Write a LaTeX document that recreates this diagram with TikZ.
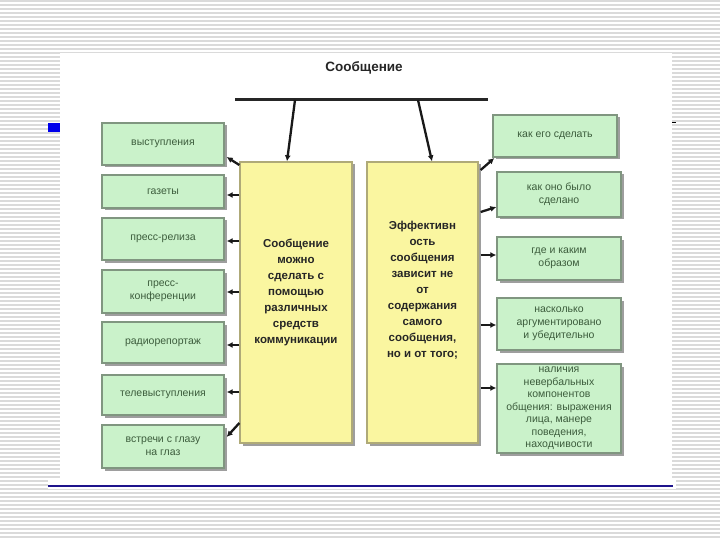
\documentclass[tikz,border=0pt]{standalone}
\usepackage{fontspec}
\setmainfont{Liberation Sans}
\usetikzlibrary{shadows,arrows.meta}
\definecolor{gfill}{RGB}{202,242,202}
\definecolor{gdraw}{RGB}{128,150,128}
\definecolor{gtext}{RGB}{60,92,60}
\definecolor{yfill}{RGB}{250,246,160}
\definecolor{ydraw}{RGB}{175,170,120}
\definecolor{stripe}{RGB}{218,218,218}
\definecolor{slideblue}{RGB}{30,20,140}
\definecolor{bulletblue}{RGB}{0,0,235}
\begin{document}
\begin{tikzpicture}[x=1pt,y=-1pt,
  gbox/.style={draw=gdraw, line width=1.3pt, fill=gfill, text=gtext,
    font=\fontsize{10.5}{13}\selectfont, align=center, inner sep=0pt,
    drop shadow={shadow xshift=2.5pt,shadow yshift=-2.5pt,fill=black!38,opacity=1}},
  ybox/.style={draw=ydraw, line width=1.3pt, fill=yfill, inner sep=0pt,
    drop shadow={shadow xshift=2.5pt,shadow yshift=-2.5pt,fill=black!38,opacity=1}},
  ytext/.style={font=\bfseries\fontsize{11.5}{16}\selectfont, align=center, text=black!85, inner sep=0pt},
  arr/.style={line width=2.3pt, black!90, -{Latex[length=6pt,width=6pt]}}
]
\useasboundingbox (0,0) rectangle (720,540);
\fill[white] (0,0) rectangle (720,540);
\foreach \i in {1,5,...,540} \draw[stripe, line width=1.6pt] (0,\i) -- (720,\i);
\fill[white] (60,53) rectangle (672,480);
\fill[white] (48,479) rectangle (676,489);
\draw[slideblue, line width=1.3pt] (48,486) -- (673,486);
\fill[bulletblue] (48,123) rectangle (60,132);
\draw[black, line width=1pt] (672,123) -- (676,123);

% title
\node[font=\bfseries\fontsize{13.5}{16}\selectfont, text=black!85] (title) at (364,68) {Сообщение};
\coordinate (barL) at (235,100);
\coordinate (barR) at (488,100);
\draw[line width=3pt, black!85] (barL) -- (barR);

% yellow boxes
\node[ybox, minimum width=112pt, minimum height=281pt] (Y1) at (296,302.5) {};
\node[ybox, minimum width=111pt, minimum height=281pt] (Y2) at (422.5,302.5) {};
\node[ytext] (Y1t) at (296,292.5) {Сообщение\\можно\\сделать с\\помощью\\различных\\средств\\коммуникации};
\node[ytext] (Y2t) at (422.5,290) {Эффективн\\ость\\сообщения\\зависит не\\от\\содержания\\самого\\сообщения,\\но и от того;};

% left green boxes
\node[gbox, minimum width=122pt, minimum height=42pt] (L1) at (163,144) {выступления};
\node[gbox, minimum width=122pt, minimum height=33pt] (L2) at (163,191.5) {газеты};
\node[gbox, minimum width=122pt, minimum height=42pt] (L3) at (163,239) {пресс-релиза};
\node[gbox, minimum width=122pt, minimum height=43pt] (L4) at (163,291.5) {пресс-\\конференции};
\node[gbox, minimum width=122pt, minimum height=41pt] (L5) at (163,342.5) {радиорепортаж};
\node[gbox, minimum width=122pt, minimum height=40pt] (L6) at (163,395) {телевыступления};
\node[gbox, minimum width=122pt, minimum height=43pt] (L7) at (163,446.5) {встречи с глазу\\на глаз};

% right green boxes
\node[gbox, minimum width=124pt, minimum height=42pt] (R1) at (555,136) {как его сделать};
\node[gbox, minimum width=124pt, minimum height=45pt] (R2) at (559,194.5) {как оно было\\сделано};
\node[gbox, minimum width=124pt, minimum height=43pt] (R3) at (559,258.5) {где и каким\\образом};
\node[gbox, minimum width=124pt, minimum height=52pt] (R4) at (559,324) {насколько\\аргументировано\\и убедительно};
\node[gbox, minimum width=124pt, minimum height=89pt, font=\fontsize{10.5}{12.5}\selectfont] (R5) at (559,408.5) {наличия\\невербальных\\компонентов\\общения: выражения\\лица, манере\\поведения,\\находчивости};

% arrows from bar
\draw[arr] (barL -| 295,0) -- (Y1.north -| 287,0);
\draw[arr] (barL -| 418,0) -- (Y2.north -| 432,0);

% left arrows
\draw[arr] (Y1.west |- 0,165) -- ([xshift=2pt]L1.east |- 0,157);
\draw[arr] (Y1.west |- 0,195) -- ([xshift=2pt]L2.east |- 0,195);
\draw[arr] (Y1.west |- 0,241) -- ([xshift=2pt]L3.east |- 0,241);
\draw[arr] (Y1.west |- 0,292) -- ([xshift=2pt]L4.east |- 0,292);
\draw[arr] (Y1.west |- 0,345) -- ([xshift=2pt]L5.east |- 0,345);
\draw[arr] (Y1.west |- 0,392) -- ([xshift=2pt]L6.east |- 0,392);
\draw[arr] (Y1.west |- 0,423) -- ([xshift=2pt]L7.east |- 0,437);

% right arrows
\draw[arr] ([xshift=2pt]Y2.east |- 0,170) -- ([xshift=2pt]R1.west |- 0,158);
\draw[arr] ([xshift=2pt]Y2.east |- 0,212) -- (R2.west |- 0,207);
\draw[arr] ([xshift=2pt]Y2.east |- 0,255) -- (R3.west |- 0,255);
\draw[arr] ([xshift=2pt]Y2.east |- 0,325) -- (R4.west |- 0,325);
\draw[arr] ([xshift=2pt]Y2.east |- 0,388) -- (R5.west |- 0,388);
\end{tikzpicture}
\end{document}
